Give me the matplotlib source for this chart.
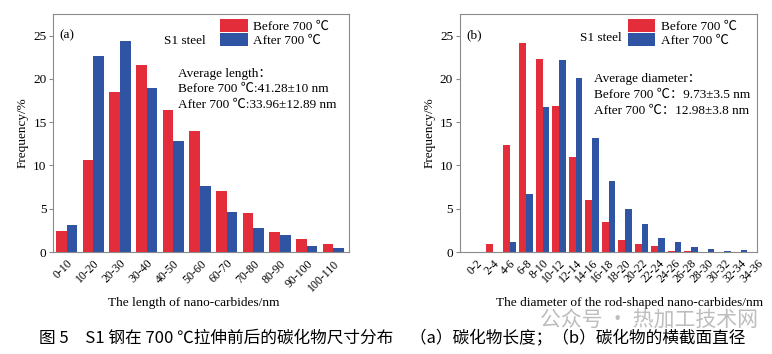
import matplotlib
matplotlib.use('Agg')
import matplotlib.pyplot as plt
import numpy as np

plt.rcParams['font.family'] = ['Liberation Serif', 'Noto Sans CJK SC', 'DejaVu Sans']

# (a) 碳化物长度
len_labels = ['0-10', '10-20', '20-30', '30-40', '40-50', '50-60', '60-70',
              '70-80', '80-90', '90-100', '100-110']
len_before = [2.4, 10.6, 18.5, 21.6, 16.4, 14.0, 7.1, 4.5, 2.3, 1.5, 0.9]
len_after = [3.1, 22.7, 24.4, 19.0, 12.8, 7.6, 4.6, 2.8, 2.0, 0.7, 0.45]

# (b) 横截面直径
dia_labels = ['0-2', '2-4', '4-6', '6-8', '8-10', '10-12', '12-14', '14-16', '16-18',
              '18-20', '20-22', '22-24', '24-26', '26-28', '28-30', '30-32', '32-34', '34-36']
dia_before = [0.05, 0.9, 12.4, 24.2, 22.3, 16.9, 11.0, 6.0, 3.5, 1.4, 0.9, 0.65,
              0.15, 0.15, 0, 0, 0, 0]
dia_after = [0.05, 0.05, 1.1, 6.7, 16.7, 22.2, 20.1, 13.2, 8.2, 5.0, 3.2, 1.6,
             1.1, 0.55, 0.3, 0.12, 0.2, 0]

red = '#E32D3B'
blue = '#2F54A3'
spine = '#8a8a8a'

fig = plt.figure(figsize=(7.72, 3.54), dpi=100)
ax1 = fig.add_axes([0.0693, 0.2881, 0.3834, 0.6724])
ax2 = fig.add_axes([0.5959, 0.2881, 0.3847, 0.6724])


def draw(ax, labels, before, after, xlim, tag, lines, ann_xy, steel_xy):
    x = np.arange(len(labels))
    w = 0.4
    ax.bar(x - w / 2, before, w, color=red, label='Before 700 ℃')
    ax.bar(x + w / 2, after, w, color=blue, label='After 700 ℃')
    ax.set_xlim(*xlim)
    ax.set_ylim(0, 27.5)
    ax.set_yticks([0, 5, 10, 15, 20, 25])
    ax.set_xticks(x)
    ax.set_xticklabels(labels, rotation=45, ha='right', rotation_mode='anchor', fontsize=8.5)
    ax.tick_params(axis='x', length=0, pad=4)
    ax.tick_params(axis='y', length=3, direction='out', labelsize=9.5, color=spine, pad=2)
    for s in ax.spines.values():
        s.set_color(spine)
        s.set_linewidth(0.8)
    ax.set_ylabel('Frequency/%', fontsize=9.5, labelpad=3)
    ax.text(0.02, 0.9, tag, transform=ax.transAxes, fontsize=9.5)
    ax.text(steel_xy[0], steel_xy[1], 'S1 steel', transform=ax.transAxes, fontsize=9.5,
            va='center')
    ax.text(ann_xy[0], ann_xy[1], '\n'.join(lines), transform=ax.transAxes,
            fontsize=9.5, va='top', linespacing=1.4)
    ax.legend(loc='upper right', bbox_to_anchor=(0.94, 0.99), frameon=False,
              fontsize=9.5, handlelength=2.1, handleheight=1.1, labelspacing=0.05,
              handletextpad=0.4, borderpad=0.2, borderaxespad=0)


draw(ax1, len_labels, len_before, len_after, (-0.5, 10.6), '(a)',
     ['Average length：', 'Before 700 ℃:41.28±10 nm', 'After 700 ℃:33.96±12.89 nm'],
     (0.42, 0.775), (0.375, 0.885))
draw(ax2, dia_labels, dia_before, dia_after, (-1, 17), '(b)',
     ['Average diameter：', 'Before 700 ℃：9.73±3.5 nm', 'After 700 ℃：12.98±3.8 nm'],
     (0.45, 0.75), (0.405, 0.9))

fig.text(0.251, 0.144, 'The length of nano-carbides/nm', fontsize=9.6, ha='center', va='center')
fig.text(0.816, 0.144, 'The diameter of the rod-shaped nano-carbides/nm', fontsize=9.6,
         ha='center', va='center')

fig.text(0.70, 0.096, '公众号 · 热加工技术网', fontsize=15, color='#bdbdbd',
         family=['Noto Sans CJK SC'], va='center')
fig.text(0.05, 0.045, '图 5　S1 钢在 700 ℃拉伸前后的碳化物尺寸分布　（a）碳化物长度；（b）碳化物的横截面直径',
         fontsize=12, family=['Noto Sans CJK SC', 'DejaVu Sans'], va='center')

fig.savefig('out.png', dpi=100)
